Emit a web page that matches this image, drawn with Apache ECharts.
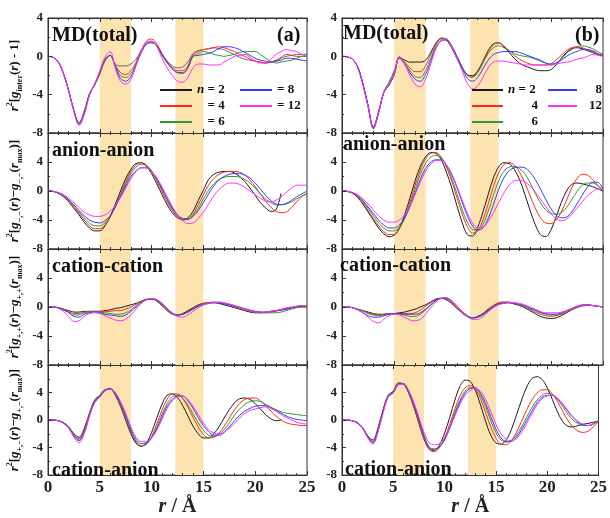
<!DOCTYPE html>
<html><head><meta charset="utf-8">
<script src="https://cdn.jsdelivr.net/npm/echarts@6/dist/echarts.min.js"></script>
<style>html,body{margin:0;padding:0;background:#fff}#c{width:610px;height:518px}</style>
</head><body><div id="c"></div>
<script>
const R = [0,0.5,1,1.5,2,2.5,3,3.5,4,4.5,5,5.5,6,6.5,7,7.5,8,8.5,9,9.5,10,10.5,11,11.5,12,12.5,13,13.5,14,14.5,15,15.5,16,16.5,17,17.5,18,18.5,19,19.5,20,20.5,21,21.5,22,22.5,23,23.5,24,24.5,25];
const X_TICKS = [0,5,10,15,20,25];
const Y_TICKS = [-8,-4,0,4];
const BANDS = [[5,8],[12.3,15]];
const SERIES_NAMES = ['n2','n4','n6','n8','n12'];
const SERIES_COLORS = ['#1c1c1c','#ff2a1a','#2f9a2f','#3a3aff','#ff30ff'];

// MD(total) (a)
const TOT_A_2  = [0,-0.1,-0.6,-1.8,-3.6,-5.6,-6.9,-5.7,-3.9,-3.0, -1.8,-0.5,0.1,-0.8,-1.0,-1.0,-0.8,-0.3,0.6,1.3, 1.5,1.1,0.2,-0.5,-1.0,-1.2,-1.1,-0.6,0.3,0.6, 0.7,0.8,0.9,0.8,0.7,0.4,0.2,-0.1,-0.3,-0.4, -0.5,-0.6,-0.7,-0.6,-0.5,-0.2,0.0,0.1,0.2,0.2, 0.2];
const TOT_A_4  = [0,-0.1,-0.6,-1.8,-3.6,-5.7,-7.0,-5.8,-3.9,-3.0, -1.8,-0.4,0.1,-0.9,-1.7,-1.9,-1.5,-0.6,0.6,1.6, 1.8,1.3,0.3,-0.5,-1.1,-1.5,-1.5,-1.0,0.2,0.5, 0.7,0.8,0.9,1.0,0.9,0.7,0.5,0.2,0.0,-0.3, -0.5,-0.6,-0.7,-0.6,-0.4,-0.1,0.2,0.1,0.0,0.0, 0.0];
const TOT_A_6  = [0,-0.1,-0.6,-1.8,-3.6,-5.7,-7.0,-5.9,-4.0,-3.0, -1.8,-0.4,0.1,-1.0,-2.0,-2.2,-1.8,-0.8,0.4,1.3, 1.5,1.1,0.1,-0.7,-1.3,-1.7,-1.8,-1.2,0.0,0.3, 0.5,0.4,0.2,0.1,0.0,0.1,0.2,0.4,0.5,0.5, 0.5,0.2,-0.2,-0.5,-0.7,-0.6,-0.5,-0.4,-0.2,0.0, 0.0];
const TOT_A_8  = [0,-0.1,-0.6,-1.8,-3.6,-5.7,-7.1,-6.0,-4.0,-2.9, -1.6,-0.3,0.1,-1.1,-2.3,-2.6,-2.1,-0.9,0.4,1.3, 1.4,1.1,0.2,-0.6,-1.3,-1.7,-1.7,-1.2,0.0,0.1, 0.2,0.3,0.5,0.8,1.0,1.0,0.9,0.7,0.4,0.1, -0.2,-0.4,-0.5,-0.6,-0.5,-0.4,-0.2,-0.2,-0.3,-0.4, -0.5];
const TOT_A_12 = [0,-0.1,-0.6,-1.9,-3.7,-5.8,-7.2,-6.1,-4.1,-2.9, -1.5,-0.1,0.5,-1.3,-2.6,-2.9,-2.4,-1.0,0.5,1.5, 1.6,1.0,-0.2,-1.2,-2.0,-2.6,-2.7,-2.2,-1.2,-0.8, -0.8,-0.9,-0.9,-0.9,-0.6,-0.3,0.0,0.1,0.2,-0.1, -0.5,-0.7,-0.7,-0.3,0.2,0.5,0.7,0.6,0.5,0.2, 0.0];
// MD(total) (b)
const TOT_B_2  = [0,-0.05,-0.3,-1.1,-2.9,-5.2,-7.4,-5.8,-3.8,-3.0, -1.9,-0.1,-0.4,-0.6,-0.6,-0.6,-0.4,0.4,1.4,1.9, 1.7,0.9,-0.2,-1.2,-1.9,-2.0,-1.5,-0.5,0.6,1.3, 1.4,1.0,0.4,-0.2,-0.7,-1.0,-1.2,-1.4,-1.5,-1.5, -1.4,-0.9,-0.2,0.4,0.8,0.9,0.8,0.6,0.4,0.2, 0.1];
const TOT_B_4  = [0,-0.05,-0.3,-1.1,-2.9,-5.2,-7.5,-5.8,-3.8,-3.0, -1.9,-0.1,-0.6,-1.2,-1.6,-1.6,-1.0,0.2,1.3,1.9, 1.8,1.0,0.0,-1.1,-1.9,-2.1,-1.6,-0.6,0.5,1.2, 1.4,1.1,0.6,0.1,-0.3,-0.6,-0.8,-0.9,-0.9,-0.9, -0.8,-0.4,0.1,0.6,0.9,1.0,0.9,0.7,0.5,0.2, 0.0];
const TOT_B_6  = [0,-0.05,-0.3,-1.1,-2.9,-5.2,-7.5,-5.9,-3.8,-3.0, -1.8,-0.1,-0.7,-1.5,-2.1,-2.2,-1.5,-0.2,1.1,1.8, 1.8,1.1,0.0,-1.1,-2.0,-2.2,-1.7,-0.7,0.3,0.9, 1.1,0.9,0.6,0.3,0.1,0.0,-0.1,-0.3,-0.5,-0.7, -0.9,-0.7,-0.3,0.3,0.7,1.0,1.1,1.0,0.8,0.5, 0.2];
const TOT_B_8  = [0,-0.05,-0.3,-1.1,-2.8,-5.1,-7.5,-5.9,-3.7,-2.7, -1.5,-0.2,-0.8,-1.7,-2.4,-2.6,-1.9,-0.5,0.9,1.6, 1.7,1.1,0.0,-1.2,-2.3,-2.6,-2.2,-1.3,-0.4,0.2, 0.4,0.5,0.5,0.5,0.4,0.2,0.0,-0.2,-0.4,-0.7, -0.8,-0.7,-0.4,0.0,0.3,0.5,0.7,0.7,0.6,0.3, 0.1];
const TOT_B_12 = [0,-0.05,-0.3,-1.2,-3.0,-5.3,-7.6,-6.0,-3.8,-2.8, -1.7,0.0,-0.8,-2.0,-2.9,-3.2,-2.4,-0.8,0.8,1.7, 1.8,1.0,-0.2,-1.5,-2.8,-3.4,-3.1,-2.2,-1.2,-0.6, -0.5,-0.5,-0.6,-0.7,-0.8,-0.9,-0.9,-0.9,-0.9,-0.9, -0.9,-0.8,-0.7,-0.6,-0.5,-0.3,-0.2,0.0,0.2,0.1, 0.0];
// anion-anion (a)
const AA_A_2  = [0,-0.05,-0.3,-0.8,-1.5,-2.4,-3.3,-4.3,-5.1,-5.5, -5.5,-4.8,-3.5,-1.8,0.0,1.7,3.0,3.8,3.9,3.4, 2.4,1.0,-0.5,-1.9,-3.0,-3.7,-3.9,-3.7,-2.8,-1.3, 0.1,1.6,2.3,2.6,2.7,2.7,2.5,2.0,1.3,0.4, -0.6,-1.6,-2.3,-2.8,-2.6,-0.3,null,null,null,null, null];
const AA_A_4  = [0,-0.05,-0.3,-0.8,-1.4,-2.3,-3.1,-4.0,-4.8,-5.2, -5.2,-4.7,-3.6,-2.1,-0.4,1.3,2.7,3.6,3.9,3.6, 2.7,1.4,-0.1,-1.5,-2.7,-3.6,-4.0,-3.9,-3.2,-1.9, -0.5,0.8,1.7,2.3,2.6,2.7,2.7,2.6,2.2,1.5, 0.6,-0.4,-1.4,-2.2,-2.8,-3.0,-2.9,-2.3,-1.5,-0.8, -0.3];
const AA_A_6  = [0,-0.05,-0.3,-0.7,-1.3,-2.1,-2.9,-3.7,-4.4,-4.8, -4.8,-4.4,-3.5,-2.2,-0.6,1.0,2.4,3.3,3.7,3.5, 2.8,1.6,0.2,-1.2,-2.5,-3.4,-3.9,-3.9,-3.4,-2.4, -1.1,0.1,1.0,1.6,1.9,2.0,2.0,1.9,1.6,1.1, 0.4,-0.4,-1.1,-1.6,-1.9,-1.9,-1.8,-1.5,-1.1,-0.7, -0.4];
const AA_A_8  = [0,-0.05,-0.25,-0.6,-1.2,-1.9,-2.7,-3.4,-4.0,-4.3, -4.4,-4.1,-3.4,-2.2,-0.8,0.7,2.0,2.8,3.2,3.2, 2.7,1.7,0.4,-1.0,-2.3,-3.3,-3.8,-3.9,-3.5,-2.7, -1.6,-0.4,0.7,1.5,2.0,2.3,2.4,2.4,2.2,1.8, 1.1,0.3,-0.6,-1.3,-1.8,-1.9,-1.7,-1.3,-0.8,-0.4, 0.0];
const AA_A_12 = [0,-0.05,-0.2,-0.5,-1.0,-1.6,-2.3,-2.9,-3.3,-3.5, -3.5,-3.3,-2.8,-2.0,-0.9,0.4,1.7,2.7,3.2,3.2, 2.7,1.8,0.6,-0.8,-2.1,-3.3,-4.1,-4.5,-4.4,-3.8, -2.9,-1.8,-0.7,0.2,0.8,1.1,1.1,0.9,0.5,0.0, -0.5,-1.0,-1.4,-1.5,-1.3,-0.8,-0.2,0.4,0.8,0.8, 0.8];
// anion-anion (b)
const AA_B_2  = [0,-0.05,-0.3,-0.9,-1.8,-2.9,-4.0,-5.1,-5.9,-6.3, -6.1,-5.1,-3.3,-1.0,1.4,3.4,4.7,5.3,5.2,4.3, 2.6,0.5,-2.0,-4.3,-6.0,-6.2,-5.0,-2.9,-0.5,1.8, 3.3,3.9,3.8,3.0,1.6,-0.4,-2.6,-4.6,-6.0,-6.3, -5.4,-3.6,-1.6,0.0,0.9,1.1,1.0,0.8,0.6,0.3, 0.0];
const AA_B_4  = [0,-0.05,-0.3,-0.8,-1.6,-2.7,-3.8,-4.8,-5.6,-6.0, -6.0,-5.2,-3.7,-1.6,0.8,2.9,4.4,5.2,5.3,4.7, 3.3,1.4,-0.9,-3.1,-4.9,-5.8,-5.5,-4.0,-1.8,0.6, 2.5,3.6,3.9,3.6,2.6,1.2,-0.6,-2.3,-3.7,-4.4, -4.5,-4.0,-2.9,-1.3,0.4,1.7,2.3,2.2,1.6,0.8, 0.0];
const AA_B_6  = [0,-0.05,-0.25,-0.7,-1.4,-2.4,-3.4,-4.4,-5.1,-5.5, -5.5,-5.0,-3.8,-2.0,0.2,2.3,3.8,4.7,4.9,4.6, 3.5,1.8,-0.3,-2.5,-4.3,-5.3,-5.4,-4.6,-2.8,-0.6, 1.4,2.7,3.3,3.4,3.1,2.4,1.2,-0.3,-1.6,-2.6, -3.1,-3.2,-3.0,-2.3,-1.2,-0.1,0.8,1.1,1.1,0.7, 0.1];
const AA_B_8  = [0,-0.05,-0.25,-0.6,-1.3,-2.2,-3.1,-4.0,-4.7,-5.1, -5.1,-4.7,-3.7,-2.2,-0.3,1.6,3.1,4.0,4.3,4.3, 3.6,2.3,0.5,-1.5,-3.4,-4.8,-5.4,-5.1,-3.8,-1.9, 0.2,1.8,2.8,3.2,3.3,3.2,2.6,1.6,0.3,-1.1, -2.4,-3.3,-3.7,-3.6,-2.9,-1.8,-0.6,0.5,1.2,1.2, 0.2];
const AA_B_12 = [0,-0.05,-0.2,-0.5,-1.1,-1.8,-2.6,-3.4,-4.0,-4.3, -4.3,-4.0,-3.3,-2.1,-0.5,1.2,2.7,3.7,4.2,4.2, 3.6,2.4,0.7,-1.2,-3.0,-4.4,-5.1,-5.0,-4.2,-3.0, -1.6,-0.3,0.8,1.4,1.5,1.3,0.7,-0.1,-1.1,-2.1, -3.1,-3.8,-4.1,-3.9,-3.2,-2.4,-1.5,-0.7,-0.1,0.3, 0.2];
// cation-cation (a)
const CC_A_2  = [0,0,-0.1,-0.3,-0.5,-0.7,-0.7,-0.6,-0.6,-0.6, -0.6,-0.5,-0.4,-0.2,-0.1,0.1,0.3,0.5,0.8,1.0, 1.1,0.8,0.2,-0.5,-1.0,-1.1,-0.9,-0.5,-0.1,0.3, 0.5,0.6,0.6,0.5,0.3,0.1,-0.1,-0.3,-0.5,-0.7, -0.8,-0.8,-0.7,-0.6,-0.5,-0.4,-0.3,-0.1,0.0,0.1, 0.1];
const CC_A_4  = [0,0,-0.1,-0.3,-0.6,-0.9,-0.9,-0.7,-0.6,-0.6, -0.6,-0.6,-0.6,-0.5,-0.5,-0.3,0.0,0.4,0.8,1.1, 1.1,0.9,0.3,-0.4,-0.9,-1.1,-1.0,-0.6,-0.2,0.2, 0.5,0.6,0.7,0.6,0.5,0.3,0.0,-0.2,-0.4,-0.6, -0.7,-0.8,-0.8,-0.7,-0.6,-0.4,-0.2,-0.1,0.0,0.0, 0.0];
const CC_A_6  = [0,0,-0.1,-0.4,-0.7,-1.1,-1.1,-0.8,-0.7,-0.6, -0.7,-0.8,-0.9,-1.0,-1.0,-0.8,-0.4,0.2,0.7,1.0, 1.1,0.9,0.4,-0.3,-0.9,-1.1,-1.0,-0.7,-0.3,0.1, 0.4,0.5,0.6,0.6,0.5,0.4,0.2,0.0,-0.2,-0.4, -0.6,-0.7,-0.8,-0.8,-0.8,-0.7,-0.5,-0.3,-0.1,0.0, 0.0];
const CC_A_8  = [0,0,-0.1,-0.4,-0.8,-1.3,-1.4,-1.0,-0.8,-0.7, -0.8,-1.0,-1.1,-1.2,-1.3,-1.1,-0.6,0.0,0.6,1.0, 1.1,1.0,0.5,-0.2,-0.8,-1.1,-1.0,-0.7,-0.3,0.1, 0.3,0.5,0.6,0.5,0.4,0.3,0.1,-0.1,-0.3,-0.5, -0.6,-0.7,-0.7,-0.6,-0.5,-0.4,-0.3,-0.1,0.1,0.2, 0.2];
const CC_A_12 = [0,0,-0.2,-0.6,-1.3,-2.0,-1.9,-1.3,-0.9,-0.8, -0.9,-1.2,-1.5,-1.8,-1.9,-1.7,-1.1,-0.3,0.5,1.0, 1.2,1.0,0.5,-0.2,-0.9,-1.3,-1.4,-1.1,-0.6,-0.1, 0.3,0.5,0.6,0.7,0.6,0.4,0.2,-0.1,-0.3,-0.5, -0.7,-0.7,-0.7,-0.6,-0.5,-0.3,-0.1,0.0,0.1,0.2, 0.2];
// cation-cation (b)
const CC_B_2  = [0,0,-0.1,-0.3,-0.5,-0.7,-0.9,-1.0,-1.0,-0.9, -0.9,-0.8,-0.7,-0.5,-0.3,0.0,0.3,0.7,1.1,1.2, 1.0,0.5,-0.2,-0.8,-1.3,-1.5,-1.3,-0.9,-0.3,0.2, 0.5,0.6,0.6,0.4,0.2,-0.1,-0.5,-0.9,-1.3,-1.5, -1.6,-1.5,-1.2,-0.8,-0.4,0.0,0.2,0.3,0.2,0.1, 0.0];
const CC_B_4  = [0,0,-0.1,-0.3,-0.5,-0.8,-1.0,-1.1,-1.0,-0.9, -0.9,-0.9,-0.9,-0.9,-0.8,-0.4,0.1,0.6,1.0,1.2, 1.1,0.6,-0.1,-0.8,-1.3,-1.5,-1.4,-1.0,-0.4,0.2, 0.6,0.7,0.7,0.5,0.3,0.0,-0.3,-0.7,-1.0,-1.2, -1.3,-1.2,-1.0,-0.7,-0.4,-0.1,0.1,0.2,0.2,0.1, 0.0];
const CC_B_6  = [0,0,-0.1,-0.3,-0.6,-0.9,-1.1,-1.2,-1.1,-1.0, -0.9,-1.0,-1.1,-1.3,-1.3,-1.0,-0.4,0.3,0.9,1.2, 1.2,0.8,0.1,-0.6,-1.2,-1.5,-1.4,-1.1,-0.6,0.0, 0.4,0.6,0.6,0.5,0.3,0.1,-0.2,-0.5,-0.8,-1.0, -1.1,-1.1,-0.9,-0.6,-0.3,0.0,0.2,0.3,0.2,0.1, 0.0];
const CC_B_8  = [0,0,-0.1,-0.4,-0.8,-1.2,-1.4,-1.4,-1.2,-1.0, -0.9,-0.9,-1.0,-1.0,-1.0,-0.8,-0.3,0.3,0.9,1.2, 1.2,0.8,0.1,-0.6,-1.2,-1.5,-1.4,-1.0,-0.5,0.0, 0.4,0.5,0.6,0.5,0.4,0.2,-0.1,-0.4,-0.7,-0.9, -1.0,-1.0,-0.8,-0.5,-0.2,0.1,0.3,0.3,0.2,0.1, 0.0];
const CC_B_12 = [0,0,-0.1,-0.4,-0.8,-1.4,-2.0,-2.2,-1.7,-1.2, -1.0,-1.1,-1.4,-1.8,-1.9,-1.7,-1.0,-0.1,0.7,1.2, 1.3,0.9,0.2,-0.6,-1.3,-1.7,-1.7,-1.3,-0.7,-0.1, 0.3,0.5,0.6,0.6,0.5,0.3,0.0,-0.3,-0.6,-0.8, -0.8,-0.8,-0.7,-0.5,-0.2,0.1,0.2,0.3,0.2,0.1, 0.0];
// cation-anion (a)
const CA_A_2  = [0,0,-0.1,-0.4,-1.0,-2.0,-2.5,-1.2,1.0,2.9, 3.6,4.4,4.5,3.6,2.0,0.0,-2.0,-3.4,-3.8,-3.3, -1.8,0.3,2.3,3.6,3.8,3.3,2.1,0.6,-0.9,-2.0, -2.6,-2.6,-2.0,-1.0,0.3,1.5,2.5,3.1,3.2,3.0, 2.4,1.6,0.8,0.2,-0.1,0.0,null,null,null,null, null];
const CA_A_4  = [0,0,-0.1,-0.4,-1.0,-2.1,-2.7,-1.4,0.9,2.8, 3.5,4.3,4.5,3.7,2.2,0.3,-1.7,-3.2,-3.8,-3.5, -2.4,-0.6,1.4,3.0,3.8,3.8,3.1,1.9,0.4,-1.0, -2.1,-2.6,-2.5,-1.9,-0.9,0.3,1.5,2.4,3.0,3.2, 3.2,2.8,2.1,1.3,0.6,0.0,-0.4,-0.6,-0.7,-0.8, -0.8];
const CA_A_6  = [0,0,-0.1,-0.4,-1.1,-2.2,-2.9,-1.6,0.7,2.7, 3.5,4.3,4.6,3.8,2.3,0.4,-1.6,-3.1,-3.7,-3.5, -2.6,-1.0,0.8,2.4,3.4,3.6,3.2,2.2,0.9,-0.4, -1.5,-2.2,-2.4,-2.1,-1.4,-0.4,0.7,1.6,2.3,2.7, 2.8,2.7,2.3,1.9,1.5,1.2,1.0,0.9,0.8,0.7, 0.6];
const CA_A_8  = [0,0,-0.1,-0.4,-1.1,-2.3,-3.0,-1.8,0.6,2.6, 3.4,4.3,4.6,3.9,2.5,0.7,-1.3,-2.8,-3.4,-3.3, -2.6,-1.3,0.4,2.0,3.0,3.5,3.5,2.8,1.7,0.4, -0.8,-1.7,-2.2,-2.2,-1.8,-1.0,-0.1,0.7,1.3,1.7, 2.0,2.1,2.1,1.8,1.4,1.0,0.6,0.3,0.1,0.0, -0.1];
const CA_A_12 = [0,0,-0.1,-0.5,-1.2,-2.5,-3.3,-2.0,0.5,2.5, 3.3,4.2,4.5,4.0,2.7,1.0,-1.0,-2.5,-3.1,-3.1, -2.6,-1.5,0.1,1.7,2.8,3.4,3.5,3.0,2.0,0.8, -0.4,-1.4,-1.9,-2.0,-1.8,-1.2,-0.5,0.3,1.0,1.4, 1.6,1.8,1.9,1.7,1.3,0.8,0.4,0.0,-0.3,-0.5, -0.6];
// cation-anion (b)
const CA_B_2  = [0,0,-0.1,-0.4,-1.1,-2.3,-2.9,-1.2,1.5,3.6, 4.2,5.4,5.2,3.9,1.9,-0.5,-2.8,-4.2,-4.4,-3.6, -1.9,0.4,2.9,4.9,5.8,5.6,4.3,2.2,-0.2,-2.2, -3.3,-3.5,-2.9,-1.4,0.7,2.9,4.8,6.0,6.3,5.9, 4.7,3.0,1.2,-0.2,-0.9,-1.0,-0.8,-0.6,-0.5,-0.3, -0.2];
const CA_B_4  = [0,0,-0.1,-0.4,-1.1,-2.4,-3.1,-1.4,1.4,3.5, 4.1,5.3,5.2,4.0,2.1,-0.3,-2.7,-4.3,-4.6,-4.0, -2.6,-0.6,1.6,3.5,4.7,5.0,4.5,3.1,1.1,-1.0, -2.6,-3.5,-3.6,-3.0,-1.8,-0.2,1.5,2.9,3.9,4.4, 4.4,3.8,2.7,1.3,0.0,-1.0,-1.6,-1.8,-1.6,-1.0, -0.2];
const CA_B_6  = [0,0,-0.1,-0.4,-1.1,-2.4,-3.2,-1.5,1.3,3.5, 4.1,5.3,5.2,4.1,2.3,0.0,-2.4,-4.0,-4.3,-3.9, -2.8,-1.0,1.1,2.9,4.2,4.7,4.6,3.6,1.9,-0.1, -1.8,-2.9,-3.2,-3.0,-2.2,-1.0,0.4,1.8,2.9,3.6, 3.9,3.7,3.0,2.0,0.9,0.0,-0.5,-0.8,-0.8,-0.5, 0.0];
const CA_B_8  = [0,0,-0.1,-0.4,-1.1,-2.4,-3.3,-1.6,1.2,3.4, 4.0,5.2,5.3,4.2,2.4,0.1,-2.3,-3.9,-4.2,-3.9, -2.9,-1.2,0.8,2.6,3.9,4.6,4.7,3.9,2.4,0.5, -1.3,-2.6,-3.1,-3.1,-2.5,-1.4,-0.1,1.3,2.5,3.3, 3.6,3.6,3.1,2.3,1.3,0.4,-0.3,-0.7,-0.8,-0.6, -0.2];
const CA_B_12 = [0,0,-0.1,-0.5,-1.2,-2.6,-3.5,-1.8,1.0,3.3, 3.9,5.1,5.2,4.3,2.6,0.4,-1.8,-3.3,-3.6,-3.4, -2.6,-1.2,0.6,2.3,3.6,4.3,4.6,4.2,3.0,1.2, -0.6,-2.0,-2.8,-3.0,-2.7,-1.8,-0.5,0.9,2.2,3.1, 3.5,3.6,3.2,2.4,1.4,0.5,-0.2,-0.6,-0.8,-0.6, -0.2];

const FONT = '"Liberation Serif","Times New Roman",serif';
const GRIDS = [
  [48,18,259,115],[342,18,261,115],
  [48,133,259,116],[342,133,261,116],
  [48,249,259,116],[342,249,261,116],
  [48,365,259,115],[342,365,261,115]
];
const PANEL_DATA = [
  [TOT_A_2,TOT_A_4,TOT_A_6,TOT_A_8,TOT_A_12],[TOT_B_2,TOT_B_4,TOT_B_6,TOT_B_8,TOT_B_12],
  [AA_A_2,AA_A_4,AA_A_6,AA_A_8,AA_A_12],[AA_B_2,AA_B_4,AA_B_6,AA_B_8,AA_B_12],
  [CC_A_2,CC_A_4,CC_A_6,CC_A_8,CC_A_12],[CC_B_2,CC_B_4,CC_B_6,CC_B_8,CC_B_12],
  [CA_A_2,CA_A_4,CA_A_6,CA_A_8,CA_A_12],[CA_B_2,CA_B_4,CA_B_6,CA_B_8,CA_B_12]
];
const Y_MAX = [4,4,8,8,8,8,8,8];
const Y_TITLES = [
  '{i|r}{sup|2}[{i|g}{sub|inter}({i|r}) - 1]', null,
  '{i|r}{sup|2}[{i|g}{sub|−,−}({i|r})−{i|g}{sub|−,−}({i|r}{sub|max})]', null,
  '{i|r}{sup|2}[{i|g}{sub|+,+}({i|r})−{i|g}{sub|+,+}({i|r}{sub|max})]', null,
  '{i|r}{sup|2}[{i|g}{sub|+,−}({i|r})−{i|g}{sub|+,−}({i|r}{sub|max})]', null
];

const TITLE_RICH = {
  i:{fontStyle:'italic',fontWeight:'bold',fontSize:13,fontFamily:FONT,color:'#111',lineHeight:18},
  sup:{fontSize:8,fontWeight:'bold',fontFamily:FONT,color:'#111',verticalAlign:'top',lineHeight:11},
  sub:{fontSize:8,fontWeight:'bold',fontFamily:FONT,color:'#111',verticalAlign:'bottom',lineHeight:11}
};

const grid = [], xAxis = [], yAxis = [], series = [];
GRIDS.forEach((g,i)=>{
  grid.push({left:g[0],top:g[1],width:g[2],height:g[3],show:true,borderColor:'#333',borderWidth:1,backgroundColor:'transparent'});
  const bottomRow = i>=6;
  const common = {type:'value',gridIndex:i,min:X_TICKS[0],max:X_TICKS[X_TICKS.length-1],interval:5,z:5,
    axisLine:{show:true,onZero:false,lineStyle:{color:'#333',width:1}},
    axisTick:{show:true,inside:true,length:4,lineStyle:{color:'#333'}},
    minorTick:{show:true,splitNumber:5,length:2,lineStyle:{color:'#333'}},
    splitLine:{show:false}};
  xAxis.push(Object.assign({},common,{position:'bottom',
    axisLabel:{show:bottomRow,fontSize:17,fontWeight:'bold',fontFamily:FONT,color:'#222',margin:4},
    name: bottomRow ? '{i|r} / Å' : '', nameLocation:'middle', nameGap:18,
    nameTextStyle:{fontSize:20,fontWeight:'bold',fontFamily:FONT,color:'#222',
      rich:{i:{fontSize:20,fontWeight:'bold',fontStyle:'italic',fontFamily:FONT,color:'#222'}}}}));
  xAxis.push(Object.assign({},common,{position:'top',axisLabel:{show:false}}));
  const t = Y_TITLES[i];
  yAxis.push({type:'value',gridIndex:i,min:Y_TICKS[0],max:Y_MAX[i],interval:4,z:5,
    axisLine:{show:true,lineStyle:{color:'#333',width:1}},
    axisTick:{show:true,inside:true,length:4,lineStyle:{color:'#333'}},
    minorTick:{show:true,splitNumber:2,length:2,lineStyle:{color:'#333'}},
    splitLine:{show:false},
    axisLabel:{fontSize:13,fontWeight:'bold',fontFamily:FONT,color:'#222',margin:5,
      formatter:v=> (Y_TICKS.indexOf(v)>=0 ? String(v) : '')},
    name: t || '', nameLocation:'middle', nameRotate:90, nameGap:24,
    nameTextStyle:{fontSize:13,fontWeight:'bold',fontFamily:FONT,color:'#111',lineHeight:18,rich:TITLE_RICH}
  });
  series.push({type:'line',xAxisIndex:2*i,yAxisIndex:i,data:[[0,0]],showSymbol:false,symbolSize:0,
    lineStyle:{width:0,opacity:0},z:1,silent:true,
    markArea:{silent:true,itemStyle:{color:'#fce3b0'},
      data:BANDS.map(b=>[{xAxis:b[0]},{xAxis:b[1]}])}});
  PANEL_DATA[i].forEach((arr,k)=>{
    series.push({type:'line',name:SERIES_NAMES[k],xAxisIndex:2*i,yAxisIndex:i,
      data:R.map((r,j)=>[r, arr[j]===undefined?null:arr[j]]),
      showSymbol:false,smooth:0.35,z:3,
      lineStyle:{width:1,color:(i===0&&k===0)?'#6a6a6a':SERIES_COLORS[k]},
      itemStyle:{color:SERIES_COLORS[k]}});
  });
});

const LRICH = {
  i:{fontStyle:'italic',fontWeight:'bold',fontSize:13,fontFamily:FONT,color:'#111'},
  h:{fontWeight:'bold',fontSize:13,fontFamily:FONT,color:'rgba(0,0,0,0)'},
  r30:{width:30,align:'right',fontWeight:'bold',fontSize:13,fontFamily:FONT,color:'#111'},
  r20:{width:20,align:'right',fontWeight:'bold',fontSize:13,fontFamily:FONT,color:'#111'}
};
function leg(name,left,top,w,text){
  return {data:[name],left:left,top:top,padding:0,icon:'rect',itemWidth:w,itemHeight:2,
    selectedMode:false,formatter:()=>text,
    textStyle:{fontSize:13,fontWeight:'bold',fontFamily:FONT,color:'#111',lineHeight:14,rich:LRICH}};
}
const legend = [
  leg('n2',160,83,32,'{i|n} = 2'), leg('n4',160,99,32,'{h|n} = 4'), leg('n6',160,115,32,'{h|n} = 6'),
  leg('n8',240,83,32,'= 8'), leg('n12',240,99,32,'= 12'),
  leg('n2',472,83,31,'{i|n} = 2'), leg('n4',472,99,31,'{r30|4}'), leg('n6',472,115,31,'{r30|6}'),
  leg('n8',548,83,29,'{r20|8}'), leg('n12',548,99,29,'{r20|12}')
];

function txt(s,left,top){
  return {type:'text',left:left,top:top,z:100,style:{text:s,font:'bold 20px '+FONT,fill:'#111'}};
}
const graphic = [
  txt('MD(total)',52,26), txt('(a)',277,26), txt('MD(total)',343,24), txt('(b)',575,26),
  txt('anion-anion',52,141), txt('anion-anion',343,135),
  txt('cation-cation',52,257), txt('cation-cation',340,256),
  txt('cation-anion',52,461), txt('cation-anion',345,460)
];

const chart = echarts.init(document.getElementById('c'),null,{renderer:'canvas'});
chart.setOption({animation:false,backgroundColor:'#fff',grid,xAxis,yAxis,series,legend,graphic});
</script></body></html>
